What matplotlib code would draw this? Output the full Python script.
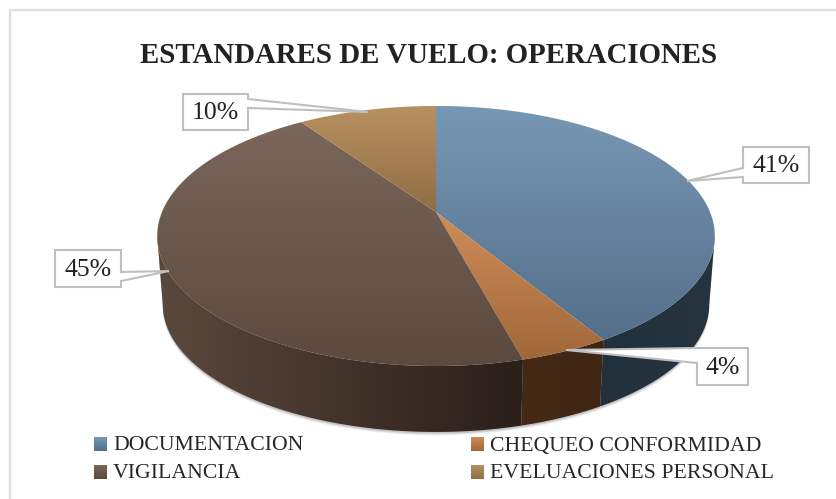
import numpy as np
import matplotlib
matplotlib.use('Agg')
import matplotlib.pyplot as plt
from matplotlib.patches import Polygon
from matplotlib.colors import LinearSegmentedColormap

plt.rcParams['font.family'] = ['Liberation Serif', 'DejaVu Serif']

title = 'ESTANDARES DE VUELO: OPERACIONES'
categories = ['DOCUMENTACION', 'CHEQUEO CONFORMIDAD', 'VIGILANCIA', 'EVELUACIONES PERSONAL']
values = [41.4, 4.4, 44.6, 9.6]
top_light = ['#7798b4', '#d08c58', '#7a665a', '#b89160']
top_dark = ['#546f8a', '#a0683a', '#5c4a3f', '#8f6d44']
side_left = ['#22303b', '#452915', '#5a483c', '#5a483c']
side_right = ['#26343f', '#3f2613', '#2b1f1a', '#2b1f1a']

# perspective of the disc
cx, cy = 436, 212
A, B, k = 274, 125.6, 0.1846
drop, shrink = 69, 0.98
# rim angles where the outline is widest, the wall shows between them
wall_from = np.arccos(-k)
wall_to = 2 * np.pi - wall_from


def rim(theta, z=0.0):
    # theta clockwise from 12 o'clock, z=0 top face, z=1 bottom face
    X = np.sin(theta)
    Y = -np.cos(theta)
    s = 1 + (shrink - 1) * z
    d = 1 - k * Y
    return np.column_stack([cx + s * A * X / d, cy + drop * z + s * B * Y / d])


def fill(ax, pts, c0, c1, horizontal=False):
    # gradient image clipped to a polygon
    x0, x1 = pts[:, 0].min(), pts[:, 0].max()
    y0, y1 = pts[:, 1].min(), pts[:, 1].max()
    cmap = LinearSegmentedColormap.from_list('g', [c0, c1])
    g = np.linspace(0, 1, 128)
    g = g.reshape(1, -1) if horizontal else g.reshape(-1, 1)
    im = ax.imshow(g, cmap=cmap, extent=[x0, x1, y1, y0], aspect='auto', vmin=0, vmax=1, zorder=1)
    poly = Polygon(pts, closed=True, fc='none', ec='none', transform=ax.transData)
    ax.add_patch(poly)
    im.set_clip_path(poly)


fig = plt.figure(figsize=(8.36, 4.99), dpi=100)
ax = fig.add_axes([0, 0, 1, 1])
ax.set_xlim(0, 836)
ax.set_ylim(499, 0)
ax.axis('off')

# chart frame
ax.plot([837, 9.5, 9.5], [10, 10, 500], color='#dedede', lw=1.6)

edges = 2 * np.pi * np.concatenate([[0], np.cumsum(values)]) / sum(values)

# soft shadow under the wall
t = np.linspace(wall_from, wall_to, 200)
for off, al in [(3.5, 0.08), (2.5, 0.12), (1.5, 0.2)]:
    low = rim(t, 1)
    low[:, 1] += off
    ax.add_patch(Polygon(np.vstack([rim(t, 0), low[::-1]]), fc='#555555', ec='none', alpha=al, zorder=0.5))

# walls, only the part that faces the viewer
for i in range(len(values)):
    a0 = max(edges[i], wall_from)
    a1 = min(edges[i + 1], wall_to)
    if a1 <= a0:
        continue
    t = np.linspace(a0, a1, 120)
    pts = np.vstack([rim(t, 0), rim(t, 1)[::-1]])
    fill(ax, pts, side_left[i], side_right[i], horizontal=True)

# top faces
for i in range(len(values)):
    t = np.linspace(edges[i], edges[i + 1], 160)
    pts = np.vstack([[[cx, cy]], rim(t, 0)])
    fill(ax, pts, top_light[i], top_dark[i])

ax.text(429, 55, title, ha='center', va='center', fontsize=20.8, fontweight='bold', color='#222222')

# data labels: box left, right, top, bottom, leader tip, leader base on the box
callouts = [
    (743, 809, 147, 183, (687, 181), (168, 177)),
    (697, 748, 348, 385, (566, 350), (348, 363)),
    (55, 121, 250, 287, (169, 271), (272, 281)),
    (183, 248, 94, 130, (368, 112), (99, 108)),
]
for i, (l, r, tp, bt, tip, base) in enumerate(callouts):
    if tip[0] > r:
        pts = [(l, tp), (r, tp), (r, base[0]), tip, (r, base[1]), (r, bt), (l, bt)]
    else:
        pts = [(l, tp), (r, tp), (r, bt), (l, bt), (l, base[1]), tip, (l, base[0])]
    ax.add_patch(Polygon(pts, closed=True, fc='white', ec='#bfbfbf', lw=1.5, zorder=5))
    ax.text((l + r) / 2, (tp + bt) / 2 + 1, '%d%%' % round(values[i]), ha='center', va='center',
            fontsize=18.5, color='#222222', zorder=6)

# legend
lx = [94, 471, 94, 471]
ly = [444, 444, 472, 472]
for i, name in enumerate(categories):
    sw = np.array([[lx[i], ly[i] - 7], [lx[i] + 13, ly[i] - 7], [lx[i] + 13, ly[i] + 7], [lx[i], ly[i] + 7]], float)
    fill(ax, sw, top_light[i], top_dark[i])
    ax.text(lx[i] + 19, ly[i] + 2, name, ha='left', va='center', fontsize=15.7, color='#262626')

ax.set_xlim(0, 836)
ax.set_ylim(499, 0)
fig.savefig('out.png', dpi=100)
